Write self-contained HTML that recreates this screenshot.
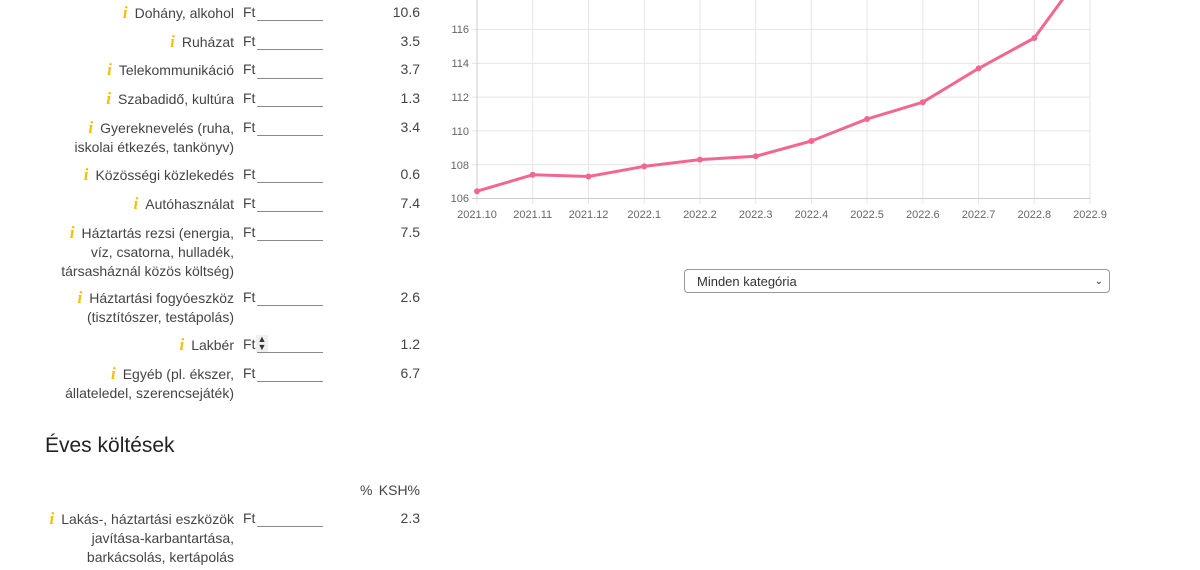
<!DOCTYPE html>
<html><head><meta charset="utf-8"><style>
body{margin:0;width:1200px;height:570px;background:#fff;font-family:"Liberation Sans",sans-serif;font-size:14px;color:#444;position:relative;overflow:hidden}
.l{position:absolute;right:966px;text-align:right;line-height:19px;white-space:nowrap}
.i{color:#f5c000;font-family:"Liberation Serif",serif;font-style:italic;font-weight:bold;font-size:17px;margin-right:7px}
.ft{position:absolute;left:243px;line-height:19px}
.u{position:absolute;left:257px;width:66px;border-bottom:1px solid #888;height:0}
.v{position:absolute;right:780px;line-height:19px}
h2{position:absolute;left:45px;top:434px;margin:0;font-weight:normal;font-size:21px;color:#222}
.sel{position:absolute;left:684px;top:269px;width:426px;height:24px;border:1px solid #999;border-radius:4px;font-size:13px;line-height:24px;box-sizing:border-box;padding-left:12px;color:#333}
</style></head><body>

<div class="l" style="top:3px"><span class="i">i</span>Dohány, alkohol</div><div class="ft" style="top:3px">Ft</div><div class="u" style="top:20px"></div><div class="v" style="top:3px">10.6</div>
<div class="l" style="top:32px"><span class="i">i</span>Ruházat</div><div class="ft" style="top:32px">Ft</div><div class="u" style="top:49px"></div><div class="v" style="top:32px">3.5</div>
<div class="l" style="top:60px"><span class="i">i</span>Telekommunikáció</div><div class="ft" style="top:60px">Ft</div><div class="u" style="top:78px"></div><div class="v" style="top:60px">3.7</div>
<div class="l" style="top:89px"><span class="i">i</span>Szabadidő, kultúra</div><div class="ft" style="top:89px">Ft</div><div class="u" style="top:106px"></div><div class="v" style="top:89px">1.3</div>
<div class="l" style="top:118px"><span class="i">i</span>Gyereknevelés (ruha,<br>iskolai étkezés, tankönyv)</div><div class="ft" style="top:118px">Ft</div><div class="u" style="top:135px"></div><div class="v" style="top:118px">3.4</div>
<div class="l" style="top:165px"><span class="i">i</span>Közösségi közlekedés</div><div class="ft" style="top:165px">Ft</div><div class="u" style="top:182px"></div><div class="v" style="top:165px">0.6</div>
<div class="l" style="top:194px"><span class="i">i</span>Autóhasználat</div><div class="ft" style="top:194px">Ft</div><div class="u" style="top:211px"></div><div class="v" style="top:194px">7.4</div>
<div class="l" style="top:223px"><span class="i">i</span>Háztartás rezsi (energia,<br>víz, csatorna, hulladék,<br>társasháznál közös költség)</div><div class="ft" style="top:223px">Ft</div><div class="u" style="top:240px"></div><div class="v" style="top:223px">7.5</div>
<div class="l" style="top:288px"><span class="i">i</span>Háztartási fogyóeszköz<br>(tisztítószer, testápolás)</div><div class="ft" style="top:288px">Ft</div><div class="u" style="top:305px"></div><div class="v" style="top:288px">2.6</div>
<div class="l" style="top:335px"><span class="i">i</span>Lakbér</div><div class="ft" style="top:335px">Ft</div><div style="position:absolute;left:256px;top:335px;width:12px;height:17px;background:#eee;font-size:9px;line-height:8px;text-align:center;color:#333">▲<br>▼</div><div class="u" style="top:352px"></div><div class="v" style="top:335px">1.2</div>
<div class="l" style="top:364px"><span class="i">i</span>Egyéb (pl. ékszer,<br>állateledel, szerencsejáték)</div><div class="ft" style="top:364px">Ft</div><div class="u" style="top:381px"></div><div class="v" style="top:364px">6.7</div>

<h2>Éves költések</h2>
<div style="position:absolute;left:360px;top:481px;line-height:19px">%</div>
<div class="v" style="top:481px">KSH%</div>
<div class="l" style="top:509px"><span class="i">i</span>Lakás-, háztartási eszközök<br>javítása-karbantartása,<br>barkácsolás, kertápolás</div><div class="ft" style="top:509px">Ft</div><div class="u" style="top:526px"></div><div class="v" style="top:509px">2.3</div>

<svg style="position:absolute;left:0;top:0" width="1200" height="570">
<g stroke="#e6e6e6" stroke-width="1">
<line x1="477" y1="0" x2="477" y2="204"/><line x1="532.7" y1="0" x2="532.7" y2="204"/><line x1="588.5" y1="0" x2="588.5" y2="204"/><line x1="644.2" y1="0" x2="644.2" y2="204"/><line x1="699.9" y1="0" x2="699.9" y2="204"/><line x1="755.7" y1="0" x2="755.7" y2="204"/><line x1="811.4" y1="0" x2="811.4" y2="204"/><line x1="867.1" y1="0" x2="867.1" y2="204"/><line x1="922.8" y1="0" x2="922.8" y2="204"/><line x1="978.6" y1="0" x2="978.6" y2="204"/><line x1="1034.3" y1="0" x2="1034.3" y2="204"/><line x1="1090" y1="0" x2="1090" y2="204"/>
<line x1="472" y1="29.5" x2="1090" y2="29.5"/><line x1="472" y1="63.3" x2="1090" y2="63.3"/><line x1="472" y1="97.1" x2="1090" y2="97.1"/><line x1="472" y1="130.9" x2="1090" y2="130.9"/><line x1="472" y1="164.7" x2="1090" y2="164.7"/>
</g>
<line x1="472" y1="198.5" x2="1090" y2="198.5" stroke="#ccc"/>
<line x1="477" y1="0" x2="477" y2="198" stroke="#ccc"/>
<g font-size="11" fill="#666" text-anchor="end" font-family="Liberation Sans,sans-serif">
<text x="469" y="33">116</text><text x="469" y="67">114</text><text x="469" y="101">112</text><text x="469" y="135">110</text><text x="469" y="169">108</text><text x="469" y="202">106</text>
</g>
<g font-size="11" fill="#666" text-anchor="middle" font-family="Liberation Sans,sans-serif">
<text x="477" y="218">2021.10</text><text x="532.7" y="218">2021.11</text><text x="588.5" y="218">2021.12</text><text x="644.2" y="218">2022.1</text><text x="699.9" y="218">2022.2</text><text x="755.7" y="218">2022.3</text><text x="811.4" y="218">2022.4</text><text x="867.1" y="218">2022.5</text><text x="922.8" y="218">2022.6</text><text x="978.6" y="218">2022.7</text><text x="1034.3" y="218">2022.8</text><text x="1090" y="218">2022.9</text>
</g>
<polyline fill="none" stroke="#f06890" stroke-width="3" stroke-linejoin="round" points="477,191.2 532.7,174.8 588.5,176.5 644.2,166.4 699.9,159.6 755.7,156.3 811.4,141 867.1,119 922.8,102.2 978.6,68.4 1034.3,38 1090,-38"/>
<g fill="#f06890">
<circle cx="477" cy="191.2" r="3"/><circle cx="532.7" cy="174.8" r="3"/><circle cx="588.5" cy="176.5" r="3"/><circle cx="644.2" cy="166.4" r="3"/><circle cx="699.9" cy="159.6" r="3"/><circle cx="755.7" cy="156.3" r="3"/><circle cx="811.4" cy="141" r="3"/><circle cx="867.1" cy="119" r="3"/><circle cx="922.8" cy="102.2" r="3"/><circle cx="978.6" cy="68.4" r="3"/><circle cx="1034.3" cy="38" r="3"/>
</g>
</svg>
<div class="sel">Minden kategória<span style="position:absolute;right:6px;top:0;font-size:10px">&#8964;</span></div>
</body></html>
